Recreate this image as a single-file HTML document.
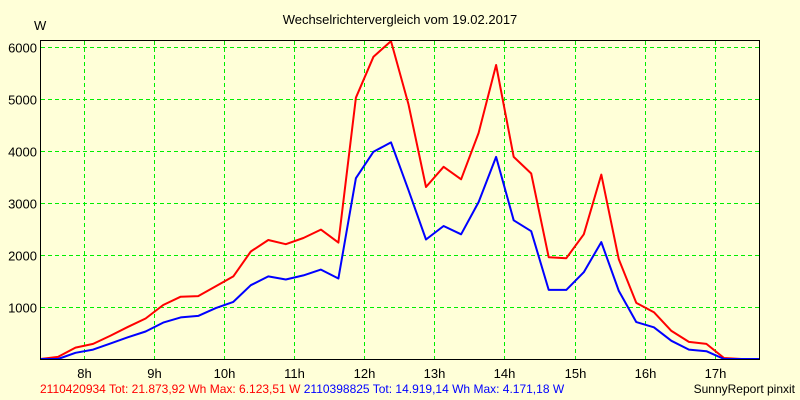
<!DOCTYPE html>
<html><head><meta charset="utf-8"><style>
html,body{margin:0;padding:0;background:#ffffd8;}
svg{display:block;font-family:"Liberation Sans",sans-serif;}
</style></head><body>
<svg id="chart" width="800" height="400" viewBox="0 0 800 400">
<rect x="0" y="0" width="800" height="400" fill="#ffffd8"/>
<text x="400" y="24" text-anchor="middle" font-size="13" fill="#000">Wechselrichtervergleich vom 19.02.2017</text>
<text x="34" y="30" font-size="13" fill="#000">W</text>
<g id="grid" shape-rendering="crispEdges"></g>
<g id="series"></g>
<rect x="40.5" y="40.5" width="719" height="319" fill="none" stroke="#000" stroke-width="1" shape-rendering="crispEdges"/>
<g id="axes"></g>
<text x="40" y="393" font-size="12"><tspan fill="#ff0000">2110420934 Tot: 21.873,92 Wh Max: 6.123,51 W </tspan><tspan fill="#0000ff">2110398825 Tot: 14.919,14 Wh Max: 4.171,18 W</tspan></text>
<text x="795" y="393" text-anchor="end" font-size="12" fill="#000">SunnyReport pinxit</text>
</svg>
<script>
const times = [];
for (let i = 0; i < 42; i++) times.push(7.375 + 0.25 * i);
const redValues = [0,40,220,290,450,620,780,1040,1200,1210,1400,1590,2070,2290,2210,2330,2490,2240,5030,5820,6120,4900,3310,3700,3460,4350,5660,3890,3570,1960,1940,2400,3550,1920,1080,900,540,330,290,20,0,0];
const blueValues = [0,0,120,180,300,420,530,700,800,830,980,1100,1420,1590,1530,1610,1720,1550,3480,3990,4170,3250,2300,2560,2400,3020,3890,2670,2460,1330,1330,1670,2250,1310,710,610,350,180,150,0,0,0];
const yTicks = [1000,2000,3000,4000,5000,6000];
const xTicks = [8,9,10,11,12,13,14,15,16,17];
const xTickLabels = ["8h","9h","10h","11h","12h","13h","14h","15h","16h","17h"];

const NS = "http://www.w3.org/2000/svg";
function xs(t){ return 40.5 + (t - 7.375) * 70.1; }
function ys(v){ return 359 - v * 0.05195; }
function mk(tag, attrs){ const e = document.createElementNS(NS, tag); for (const k in attrs) e.setAttribute(k, attrs[k]); return e; }

const grid = document.getElementById('grid');
const axes = document.getElementById('axes');
yTicks.forEach(v => {
  const y = Math.floor(ys(v)) + 0.5;
  const l = mk('line', {x1:41, x2:759, y1:y, y2:y, stroke:'#00ee00', 'stroke-dasharray':'4,3'});
  
  
  grid.appendChild(l);
  const t = mk('text', {x:37, y:y+5, 'text-anchor':'end', 'font-size':'13', fill:'#000'});
  t.textContent = v;
  
  
  axes.appendChild(t);
});
xTicks.forEach((h, i) => {
  const x = Math.floor(xs(h)) + 0.5;
  const l = mk('line', {x1:x, x2:x, y1:41, y2:359, stroke:'#00ee00', 'stroke-dasharray':'4,3'});
  
  
  grid.appendChild(l);
  const t = mk('text', {x:x, y:378, 'text-anchor':'middle', 'font-size':'13', fill:'#000'});
  t.textContent = xTickLabels[i];
  
  
  axes.appendChild(t);
});
const series = document.getElementById('series');
function line(vals, color, name){
  const pts = vals.map((v, i) => xs(times[i]).toFixed(1) + ',' + ys(v).toFixed(1)).join(' ');
  const p = mk('polyline', {points:pts, fill:'none', stroke:color, 'stroke-width':'2', 'stroke-linejoin':'round'});
  
  
  series.appendChild(p);
}
line(redValues, '#ff0000', 'red-inverter-line');
line(blueValues, '#0000ff', 'blue-inverter-line');
</script>
</body></html>
